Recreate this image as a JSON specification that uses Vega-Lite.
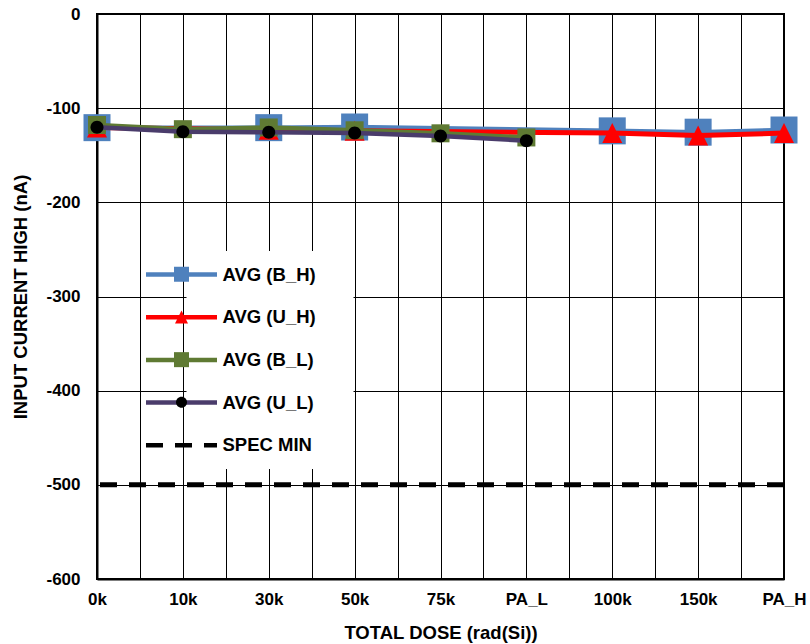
{
  "$schema": "https://vega.github.io/schema/vega-lite/v6.json",
  "width": 687,
  "height": 565,
  "autosize": {"type": "none"},
  "padding": {"left": 97, "top": 14, "right": 26, "bottom": 65},
  "background": "white",
  "config": {
    "font": "Liberation Sans",
    "view": {"stroke": "black", "strokeWidth": 2}
  },
  "data": {
    "values": [
      {"series": "AVG (B_H)", "dose": "0k", "idx": 0, "value": -120.7},
      {"series": "AVG (B_H)", "dose": "30k", "idx": 2, "value": -120.7},
      {"series": "AVG (B_H)", "dose": "50k", "idx": 3, "value": -120.0},
      {"series": "AVG (B_H)", "dose": "100k", "idx": 6, "value": -124.1},
      {"series": "AVG (B_H)", "dose": "150k", "idx": 7, "value": -125.5},
      {"series": "AVG (B_H)", "dose": "PA_H", "idx": 8, "value": -123.2},
      {"series": "AVG (U_H)", "dose": "0k", "idx": 0, "value": -120.5},
      {"series": "AVG (U_H)", "dose": "30k", "idx": 2, "value": -123.0},
      {"series": "AVG (U_H)", "dose": "50k", "idx": 3, "value": -124.0},
      {"series": "AVG (U_H)", "dose": "100k", "idx": 6, "value": -126.5},
      {"series": "AVG (U_H)", "dose": "150k", "idx": 7, "value": -129.0},
      {"series": "AVG (U_H)", "dose": "PA_H", "idx": 8, "value": -126.5},
      {"series": "AVG (B_L)", "dose": "0k", "idx": 0, "value": -117.9},
      {"series": "AVG (B_L)", "dose": "10k", "idx": 1, "value": -122.3},
      {"series": "AVG (B_L)", "dose": "30k", "idx": 2, "value": -120.5},
      {"series": "AVG (B_L)", "dose": "50k", "idx": 3, "value": -123.5},
      {"series": "AVG (B_L)", "dose": "75k", "idx": 4, "value": -126.7},
      {"series": "AVG (B_L)", "dose": "PA_L", "idx": 5, "value": -131.1},
      {"series": "AVG (U_L)", "dose": "0k", "idx": 0, "value": -120.3},
      {"series": "AVG (U_L)", "dose": "10k", "idx": 1, "value": -125.0},
      {"series": "AVG (U_L)", "dose": "30k", "idx": 2, "value": -125.7},
      {"series": "AVG (U_L)", "dose": "50k", "idx": 3, "value": -126.3},
      {"series": "AVG (U_L)", "dose": "75k", "idx": 4, "value": -129.6},
      {"series": "AVG (U_L)", "dose": "PA_L", "idx": 5, "value": -134.5},
      {"series": "SPEC MIN", "value": -500}
    ]
  },
  "encoding": {
    "y": {
      "field": "value",
      "type": "quantitative",
      "title": "INPUT CURRENT HIGH (nA)",
      "scale": {"domain": [-600, 0], "nice": false, "zero": false},
      "axis": {
        "values": [-600, -500, -400, -300, -200, -100, 0],
        "labelExpr": "'' + datum.value",
        "grid": true, "gridColor": "black", "gridWidth": 1, "gridOpacity": 1,
        "ticks": false, "tickSize": 0,
        "domainColor": "black", "domainWidth": 2,
        "labelPadding": 17, "labelFontSize": 17, "labelFontWeight": "bold", "labelColor": "black",
        "titleFontSize": 18.5, "titleFontWeight": "bold", "titleColor": "black", "titlePadding": 15.5
      }
    }
  },
  "layer": [
    {
      "transform": [{"filter": "datum.series === 'AVG (B_H)'"}],
      "mark": {"type": "line", "strokeWidth": 4.5},
      "encoding": {
        "x": {
          "field": "idx", "type": "quantitative", "title": "TOTAL DOSE (rad(Si))",
          "scale": {"domain": [0, 8], "nice": false, "zero": false},
          "axis": {
            "values": [0, 0.5, 1, 1.5, 2, 2.5, 3, 3.5, 4, 4.5, 5, 5.5, 6, 6.5, 7, 7.5, 8],
            "labelExpr": "datum.value % 1 === 0 ? ['0k','10k','30k','50k','75k','PA_L','100k','150k','PA_H'][datum.value] : ''",
            "grid": true, "gridColor": "black", "gridWidth": 1, "gridOpacity": 1,
            "ticks": false, "tickSize": 0,
            "domainColor": "black", "domainWidth": 2,
            "labelFlush": false, "labelOverlap": false, "labelBound": false,
            "labelPadding": 12, "labelFontSize": 17, "labelFontWeight": "bold", "labelColor": "black",
            "titleFontSize": 18.5, "titleFontWeight": "bold", "titleColor": "black", "titlePadding": 16
          }
        },
        "color": {
          "field": "series", "type": "nominal",
          "scale": {
            "domain": ["AVG (B_H)", "AVG (U_H)", "AVG (B_L)", "AVG (U_L)", "SPEC MIN"],
            "range": ["#4F81BD", "#FF0000", "#5F7A33", "#4A3C6B", "#000000"]
          },
          "legend": {
            "orient": "none", "legendX": 89.5, "legendY": 237, "title": null,
            "fillColor": "white", "padding": 14,
            "symbolType": "M-13.7,0M17.1,0M-9.143,0H1", "symbolSize": 196, "symbolStrokeWidth": 4.5, "symbolOpacity": 1,
            "labelFont": "Liberation Sans", "labelFontSize": 18.5, "labelFontWeight": "bold", "labelColor": "black",
            "labelOffset": 3, "rowPadding": 23.7, "labelLimit": 300
          }
        }
      }
    },
    {
      "transform": [{"filter": "datum.series === 'AVG (B_H)'"}],
      "mark": {"type": "point", "filled": true, "size": 729, "opacity": 1, "strokeWidth": 0},
      "encoding": {
        "x": {"field": "idx", "type": "quantitative"},
        "fill": {
          "field": "series", "type": "nominal",
          "scale": {
            "domain": ["AVG (B_H)", "AVG (U_H)", "AVG (B_L)", "AVG (U_L)"],
            "range": ["#4F81BD", "#FF0000", "#5F7A33", "#000000"]
          },
          "legend": {
            "orient": "none", "legendX": 61.25, "legendY": 237, "title": null,
            "padding": 14,
            "symbolSize": 225, "symbolStrokeWidth": 0, "symbolOpacity": 1,
            "labelFont": "Liberation Sans", "labelFontSize": 18.5, "labelFontWeight": "bold",
            "labelExpr": "''",
            "labelOffset": 3, "rowPadding": 23.7, "labelLimit": 300
          }
        },
        "shape": {
          "field": "series", "type": "nominal",
          "scale": {
            "domain": ["AVG (B_H)", "AVG (U_H)", "AVG (B_L)", "AVG (U_L)"],
            "range": ["M-1,-1H1V1H-1Z", "M0,-1M0,1M0,-0.867L0.867,0.867H-0.867Z", "M-1,-1H1V1H-1Z", "M0,-1M0,1M-0.733,0A0.733,0.733,0,1,0,0.733,0A0.733,0.733,0,1,0,-0.733,0Z"]
          },
          "legend": {
            "orient": "none", "legendX": 61.25, "legendY": 237, "title": null,
            "padding": 14,
            "symbolSize": 225, "symbolStrokeWidth": 0, "symbolOpacity": 1,
            "labelFont": "Liberation Sans", "labelFontSize": 18.5, "labelFontWeight": "bold",
            "labelExpr": "''",
            "labelOffset": 3, "rowPadding": 23.7, "labelLimit": 300
          }
        }
      }
    },
    {
      "transform": [{"filter": "datum.series === 'AVG (U_H)'"}],
      "mark": {"type": "line", "strokeWidth": 5},
      "encoding": {
        "x": {"field": "idx", "type": "quantitative"},
        "color": {"field": "series", "type": "nominal"}
      }
    },
    {
      "transform": [{"filter": "datum.series === 'AVG (U_H)'"}],
      "mark": {"type": "point", "filled": true, "size": 532, "opacity": 1, "strokeWidth": 0},
      "encoding": {
        "x": {"field": "idx", "type": "quantitative"},
        "fill": {"field": "series", "type": "nominal"},
        "shape": {"field": "series", "type": "nominal"}
      }
    },
    {
      "transform": [{"filter": "datum.series === 'AVG (B_L)'"}],
      "mark": {"type": "line", "strokeWidth": 4.5},
      "encoding": {
        "x": {"field": "idx", "type": "quantitative"},
        "color": {"field": "series", "type": "nominal"}
      }
    },
    {
      "transform": [{"filter": "datum.series === 'AVG (B_L)'"}],
      "mark": {"type": "point", "filled": true, "size": 324, "opacity": 1, "strokeWidth": 0},
      "encoding": {
        "x": {"field": "idx", "type": "quantitative"},
        "fill": {"field": "series", "type": "nominal"},
        "shape": {"field": "series", "type": "nominal"}
      }
    },
    {
      "transform": [{"filter": "datum.series === 'AVG (U_L)'"}],
      "mark": {"type": "line", "strokeWidth": 4.5},
      "encoding": {
        "x": {"field": "idx", "type": "quantitative"},
        "color": {"field": "series", "type": "nominal"}
      }
    },
    {
      "transform": [{"filter": "datum.series === 'AVG (U_L)'"}],
      "mark": {"type": "point", "filled": true, "size": 314, "opacity": 1, "strokeWidth": 0},
      "encoding": {
        "x": {"field": "idx", "type": "quantitative"},
        "fill": {"field": "series", "type": "nominal"},
        "shape": {"field": "series", "type": "nominal"}
      }
    },
    {
      "transform": [{"filter": "datum.series === 'SPEC MIN'"}],
      "mark": {"type": "rule", "strokeWidth": 5},
      "encoding": {
        "color": {"field": "series", "type": "nominal"},
        "strokeDash": {
          "field": "series", "type": "nominal",
          "scale": {
            "domain": ["AVG (B_H)", "AVG (U_H)", "AVG (B_L)", "AVG (U_L)", "SPEC MIN"],
            "range": [[1, 0], [1, 0], [1, 0], [1, 0], [17, 12]]
          }
        }
      }
    }
  ]
}
